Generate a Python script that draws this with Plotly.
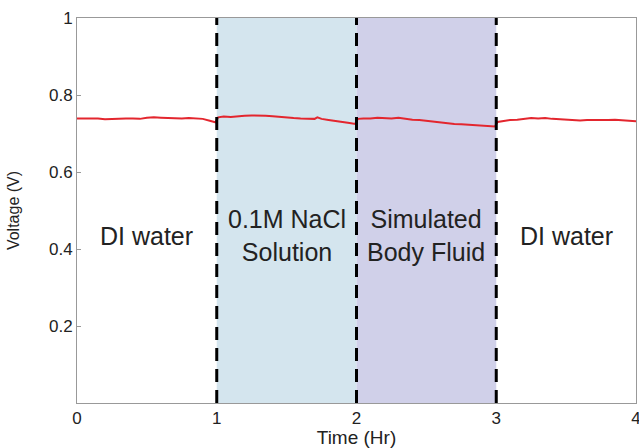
import plotly.graph_objects as go

# Time (hr) and voltage (V)
time_hr = [0.00, 0.05, 0.10, 0.15, 0.20, 0.25, 0.30, 0.35, 0.40, 0.45, 0.50, 0.55, 0.60, 0.65, 0.70, 0.75, 0.80, 0.85, 0.90, 0.95, 0.99,
           1.01, 1.05, 1.10, 1.15, 1.20, 1.25, 1.30, 1.35, 1.40, 1.45, 1.50, 1.55, 1.60, 1.65, 1.70, 1.72, 1.75, 1.80, 1.85, 1.90, 1.95, 1.99,
           2.01, 2.05, 2.10, 2.15, 2.20, 2.25, 2.30, 2.35, 2.40, 2.45, 2.50, 2.55, 2.60, 2.65, 2.70, 2.75, 2.80, 2.85, 2.90, 2.95, 2.99,
           3.01, 3.05, 3.10, 3.15, 3.20, 3.25, 3.30, 3.35, 3.40, 3.45, 3.50, 3.55, 3.60, 3.65, 3.70, 3.75, 3.80, 3.85, 3.90, 3.95, 4.00]
voltage_v = [0.739, 0.739, 0.738, 0.739, 0.737, 0.738, 0.739, 0.739, 0.739, 0.738, 0.741, 0.742, 0.741, 0.740, 0.740, 0.739, 0.740, 0.739, 0.738, 0.733, 0.729,
             0.742, 0.744, 0.743, 0.745, 0.746, 0.747, 0.747, 0.746, 0.745, 0.743, 0.742, 0.740, 0.739, 0.738, 0.738, 0.742, 0.738, 0.735, 0.733, 0.730, 0.727, 0.725,
             0.738, 0.739, 0.739, 0.741, 0.740, 0.739, 0.741, 0.738, 0.736, 0.735, 0.733, 0.730, 0.728, 0.727, 0.725, 0.724, 0.723, 0.722, 0.721, 0.719, 0.718,
             0.730, 0.733, 0.735, 0.736, 0.738, 0.740, 0.739, 0.740, 0.738, 0.737, 0.735, 0.734, 0.734, 0.735, 0.735, 0.734, 0.735, 0.736, 0.735, 0.734, 0.732]

x_ticks = [0, 1, 2, 3, 4]
y_ticks = [0.2, 0.4, 0.6, 0.8, 1]
boundaries = [1, 2, 3]
region_starts = [1, 2]
region_ends = [2, 3]
region_colors = ["rgba(205,225,235,0.85)", "rgba(205,205,232,0.95)"]
region_labels = ["DI water", "0.1M NaCl<br>Solution", "Simulated<br>Body Fluid", "DI water"]
label_x = [0.5, 1.5, 2.5, 3.5]
label_y = 0.435

fig = go.Figure()

for x0, x1, c in zip(region_starts, region_ends, region_colors):
    fig.add_vrect(x0=x0, x1=x1, fillcolor=c, line_width=0, layer="below")

fig.add_trace(go.Scatter(x=time_hr, y=voltage_v, mode="lines",
                         line=dict(color="#e3262e", width=2), showlegend=False))

for b in boundaries:
    fig.add_shape(type="line", x0=b, x1=b, y0=0, y1=1, xref="x", yref="y",
                  line=dict(color="black", width=3, dash="13px,8px"))

for lx, lt in zip(label_x, region_labels):
    fig.add_annotation(x=lx, y=label_y, text=lt, showarrow=False,
                       font=dict(size=25, color="#222"), xref="x", yref="y")

axis_common = dict(showgrid=False, zeroline=False, showline=True, linecolor="#999",
                   linewidth=1, mirror=True, ticks="inside", ticklen=4, tickcolor="#999",
                   tickfont=dict(size=17, color="#222"), automargin=False,
                   ticklabeloverflow="allow")

fig.update_xaxes(range=[0, 4], tickvals=x_ticks, ticktext=[str(t) for t in x_ticks],
                 title=dict(text="Time (Hr)", font=dict(size=19, color="#222"), standoff=2),
                 **axis_common)
fig.update_yaxes(range=[0, 1], tickvals=y_ticks, ticktext=["0.2", "0.4", "0.6", "0.8", "1"],
                 title=dict(text="Voltage (V)", font=dict(size=16, color="#222"), standoff=25),
                 **axis_common)

fig.update_layout(width=639, height=448, margin=dict(l=77, r=3, t=18, b=45),
                  plot_bgcolor="white", paper_bgcolor="white",
                  font=dict(family="Liberation Sans, Arial, sans-serif"))

fig.write_html("out.html", config={"displayModeBar": False},
               post_script="document.body.style.margin='0';document.body.style.overflow='hidden';")
